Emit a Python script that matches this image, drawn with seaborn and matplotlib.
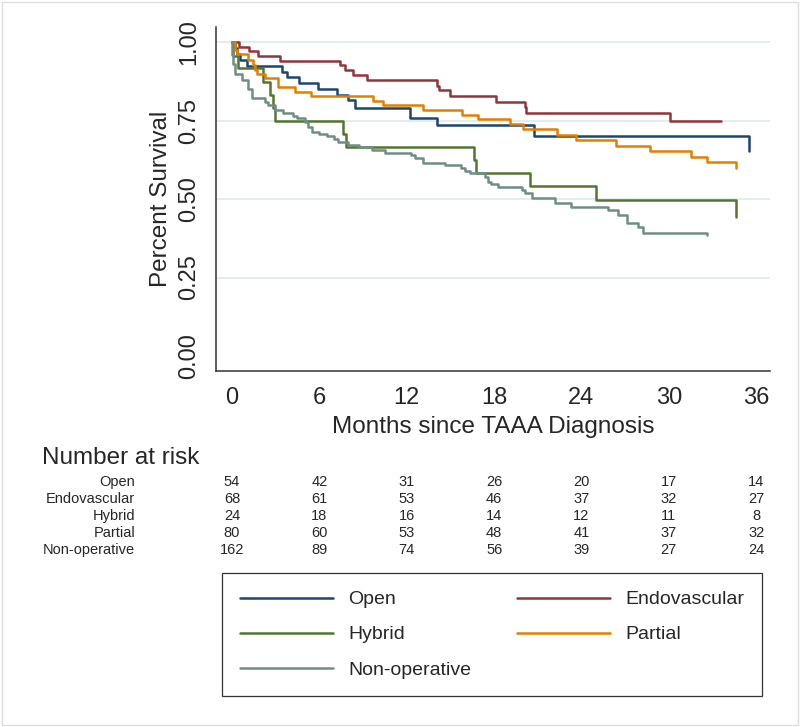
import numpy as np
import pandas as pd
import matplotlib
matplotlib.use("Agg")
import matplotlib.pyplot as plt
import matplotlib.transforms as mtransforms
from matplotlib.lines import Line2D
from matplotlib.patches import Rectangle
import seaborn as sns

# groups and Stata s2color colours
groups = ["Open", "Endovascular", "Hybrid", "Partial", "Non-operative"]
colors = ["#1a476f", "#90353b", "#55752f", "#e37e00", "#6e8e84"]

# Kaplan-Meier steps (months, survival)
open_t = [0, 0.2, 0.35, 0.55, 1.0, 3.45, 3.76, 4.6, 5.93, 7.19, 8.0, 8.45, 12.23, 14.06, 20.74, 35.5]
open_s = [1.0, 0.981, 0.963, 0.944, 0.926, 0.907, 0.889, 0.870, 0.852, 0.833, 0.815, 0.790, 0.760, 0.735, 0.702, 0.655]

endo_t = [0, 0.5, 1.2, 1.8, 3.3, 7.42, 7.76, 8.33, 9.25, 14.1, 14.25, 15.0, 18.1, 20.1, 20.2, 30.1, 33.6]
endo_s = [1.0, 0.985, 0.971, 0.957, 0.941, 0.928, 0.912, 0.896, 0.880, 0.862, 0.847, 0.829, 0.811, 0.795, 0.774, 0.750, 0.750]

hyb_t = [0, 0.1, 0.44, 2.15, 2.6, 2.8, 2.95, 7.65, 7.8, 16.6, 16.75, 20.5, 25.0, 34.6]
hyb_s = [1.0, 0.958, 0.917, 0.875, 0.833, 0.792, 0.750, 0.708, 0.667, 0.625, 0.584, 0.542, 0.497, 0.442]

part_t = [0, 0.21, 0.32, 1.12, 1.46, 1.58, 1.69, 2.27, 3.18, 4.33, 5.4, 9.7, 10.4, 13.1, 15.8, 16.9,
          19.1, 19.97, 22.3, 23.6, 26.4, 28.7, 31.5, 32.6, 34.6]
part_s = [1.0, 0.975, 0.963, 0.944, 0.928, 0.912, 0.90, 0.887, 0.858, 0.843, 0.829, 0.814, 0.80, 0.784, 0.768, 0.754,
          0.74, 0.723, 0.704, 0.689, 0.67, 0.654, 0.635, 0.617, 0.598]

non_t = [0, 0.03, 0.09, 0.21, 0.66, 1.12, 1.35, 2.27, 2.5, 2.95, 3.53, 4.2, 4.44, 5.01, 5.24,
         5.47, 6.0, 6.5, 7.0, 7.3, 8.0, 8.7, 9.6, 10.5, 12.3, 12.6, 13.1, 14.6, 15.7, 16.0,
         16.35, 17.4, 17.6, 17.8, 18.3, 19.9, 20.1, 20.6, 22.2, 23.3, 25.8, 26.5, 27.1, 27.9, 28.25, 32.6]
non_s = [1.0, 0.96, 0.93, 0.90, 0.88, 0.85, 0.821, 0.811, 0.80, 0.784, 0.774, 0.765, 0.758, 0.747, 0.731,
         0.715, 0.708, 0.701, 0.692, 0.683, 0.673, 0.667, 0.657, 0.648, 0.641, 0.632, 0.616, 0.609, 0.60, 0.591,
         0.582, 0.572, 0.556, 0.548, 0.538, 0.530, 0.520, 0.503, 0.489, 0.476, 0.465, 0.449, 0.423, 0.41, 0.393, 0.385]

# number at risk table
risk_times = [0, 6, 12, 18, 24, 30, 36]
risk_open = [54, 42, 31, 26, 20, 17, 14]
risk_endo = [68, 61, 53, 46, 37, 32, 27]
risk_hyb = [24, 18, 16, 14, 12, 11, 8]
risk_part = [80, 60, 53, 48, 41, 37, 32]
risk_non = [162, 89, 74, 56, 39, 27, 24]

curves = [(open_t, open_s), (endo_t, endo_s), (hyb_t, hyb_s), (part_t, part_s), (non_t, non_s)]
df = pd.concat([pd.DataFrame({"time": t, "surv": s, "group": g}) for g, (t, s) in zip(groups, curves)],
               ignore_index=True)

sns.set_style("white")
plt.rcParams["font.family"] = ["Liberation Sans", "DejaVu Sans"]

fig = plt.figure(figsize=(8, 7.27), dpi=100)
ax = fig.add_axes([0.27, 0.4897, 0.6925, 0.4732])

# light grid lines behind the curves
for yv in [0.25, 0.5, 0.75, 1.0]:
    ax.axhline(yv, color="#e3ecee", lw=1.4, zorder=0)

sns.lineplot(data=df, x="time", y="surv", hue="group", hue_order=groups, palette=colors,
             drawstyle="steps-post", estimator=None, sort=False, legend=False, lw=1.8, ax=ax)

ax.set_xlim(-1.1, 36.95)
ax.set_ylim(-0.048, 1.049)
ax.set_xticks(risk_times)
ax.set_yticks([0, 0.25, 0.5, 0.75, 1.0])
ax.set_yticklabels(["0.00", "0.25", "0.50", "0.75", "1.00"], rotation=90, va="center")
ax.tick_params(axis="both", labelsize=17, length=6.5, width=1.1, color="#333333")
ax.tick_params(axis="y", pad=5)
ax.tick_params(axis="x", pad=5)
ax.set_xlabel("Months since TAAA Diagnosis", fontsize=17.5, labelpad=5)
ax.set_ylabel("Percent Survival", fontsize=17.5, labelpad=4)
for side in ["top", "right"]:
    ax.spines[side].set_visible(False)
for side in ["left", "bottom"]:
    ax.spines[side].set_color("#333333")
    ax.spines[side].set_linewidth(1.1)
ax.set_facecolor("white")

# number at risk
fig.text(0.0525, 1 - 458 / 727, "Number at risk", fontsize=17.5, va="center", ha="left")
trans = mtransforms.blended_transform_factory(ax.transData, fig.transFigure)
risk_rows = [risk_open, risk_endo, risk_hyb, risk_part, risk_non]
row_y = [482, 499, 516, 533, 550]
for g, row, yp in zip(groups, risk_rows, row_y):
    fy = 1 - yp / 727
    fig.text(0.169, fy, g, fontsize=10.5, ha="right", va="center")
    for tx, n in zip(risk_times, row):
        ax.text(tx, fy, str(n), fontsize=10.5, ha="center", va="center", transform=trans, clip_on=False)

# legend below, row-major order
order = [0, 2, 4, 1, 3]
handles = [Line2D([0], [0], color=colors[i], lw=1.8) for i in order]
labels = [groups[i] for i in order]
leg = fig.legend(handles, labels, ncol=2, loc="lower left",
                 bbox_to_anchor=(0.2775, 0.0426, 0.675, 0.165), mode="expand", borderaxespad=0,
                 frameon=True, fancybox=False, edgecolor="black", fontsize=14,
                 handlelength=4.8, handletextpad=0.8, borderpad=0.9, labelspacing=0.9)
leg.get_frame().set_linewidth(0.9)

fig.patches.append(Rectangle((0.003, 0.003), 0.994, 0.994, transform=fig.transFigure,
                             fill=False, ec="#dddddd", lw=1))

fig.savefig("out.png", dpi=100)
